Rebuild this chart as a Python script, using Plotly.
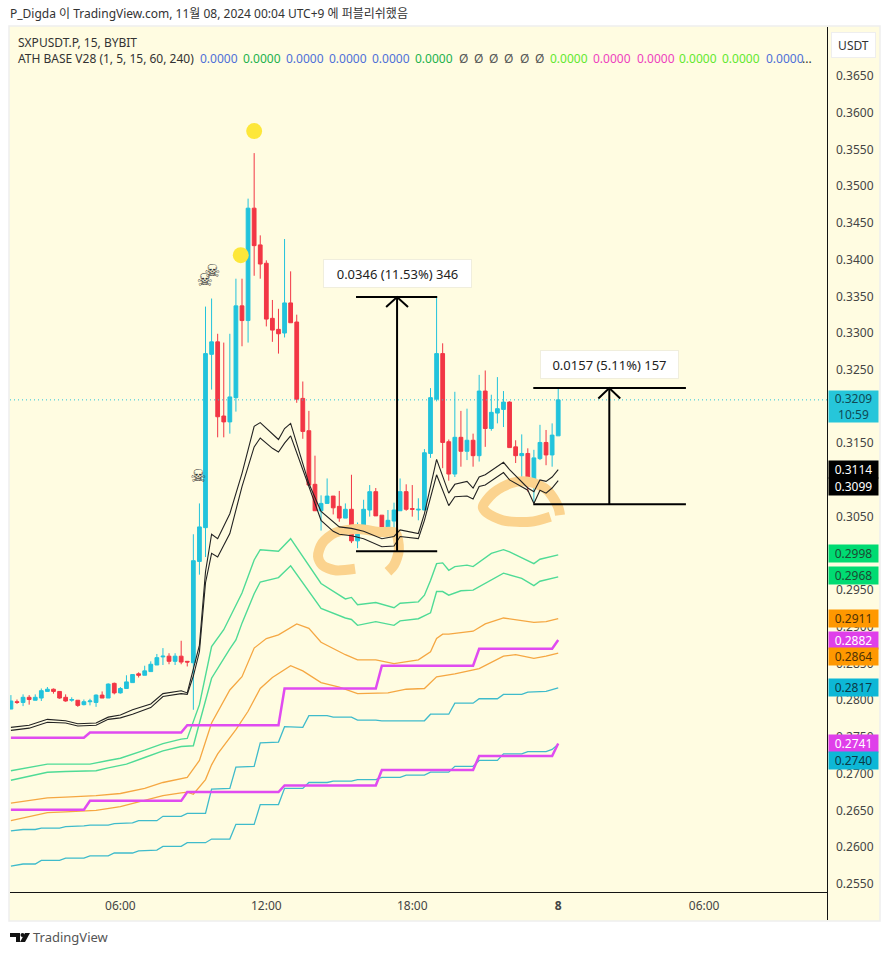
import pandas as pd
import plotly.graph_objects as go

# candles, 15 minute bars from 01:30 to 00:00
start_time = "2024-11-07 01:30"
opens = [
    .2788, .2798, .2797, .2804, .2800, .2803, .2812, .2815, .2812, .2804, .2800, .2800, .2794, .2798, .2797, .2807,
    .2803, .2823, .2810, .2816, .2824, .2836, .2834, .2839, .2848, .2859, .2860, .2853, .2860, .2853, .2851, .2989,
    .3035, .3271, .3288, .3187, .3179, .3212, .3337, .3317, .3470, .3420, .3395, .3320, .3305, .3300, .3341, .3315,
    .3211, .3167, .3094, .3058, .3068, .3078, .3064, .3048, .3060, .3017, .3034, .3059, .3084, .3052, .3026, .3044,
    .3058, .3084, .3061, .3059, .3059, .3136, .3210, .3272, .3152, .3108, .3158, .3139, .3154, .3133, .3221, .3170,
    .3191, .3196, .3206, .3145, .3133, .3136, .3095, .3129, .3151, .3134, .3160,
]
highs = [
    .2807, .2801, .2808, .2807, .2808, .2816, .2818, .2816, .2812, .2808, .2804, .2800, .2801, .2802, .2808, .2812,
    .2823, .2824, .2818, .2834, .2835, .2838, .2847, .2853, .2863, .2871, .2864, .2864, .2881, .2853, .3026, .3068,
    .3336, .3347, .3299, .3287, .3299, .3374, .3374, .3483, .3545, .3433, .3399, .3345, .3333, .3428, .3384, .3325,
    .3234, .3194, .3133, .3079, .3102, .3078, .3085, .3068, .3107, .3042, .3073, .3093, .3089, .3052, .3059, .3069,
    .3102, .3094, .3093, .3075, .3142, .3225, .3350, .3286, .3155, .3220, .3194, .3197, .3163, .3243, .3249, .3216,
    .3240, .3221, .3207, .3154, .3162, .3143, .3141, .3175, .3168, .3177, .3225,
]
lows = [
    .2788, .2795, .2792, .2794, .2800, .2799, .2812, .2809, .2802, .2798, .2798, .2791, .2793, .2793, .2791, .2803,
    .2803, .2808, .2809, .2816, .2824, .2831, .2834, .2839, .2848, .2848, .2849, .2848, .2849, .2846, .2787, .2971,
    .2995, .3223, .3158, .3158, .3163, .3193, .3282, .3287, .3378, .3374, .3309, .3288, .3272, .3294, .3314, .3205,
    .3156, .3093, .3058, .3031, .3068, .3053, .3043, .3048, .3014, .3007, .3032, .3050, .3051, .3024, .3024, .3018,
    .3058, .3058, .3050, .3045, .3059, .3130, .3207, .3116, .3099, .3104, .3118, .3127, .3118, .3125, .3145, .3167,
    .3177, .3172, .3144, .3123, .3104, .3084, .3069, .3127, .3120, .3118, .3160,
]
closes = [
    .2799, .2797, .2804, .2801, .2804, .2813, .2815, .2812, .2803, .2799, .2801, .2793, .2798, .2799, .2807, .2803,
    .2822, .2810, .2816, .2825, .2835, .2834, .2840, .2849, .2858, .2860, .2853, .2860, .2852, .2852, .2990, .3036,
    .3272, .3288, .3186, .3179, .3213, .3337, .3317, .3470, .3419, .3394, .3319, .3304, .3299, .3341, .3314, .3210,
    .3166, .3093, .3058, .3068, .3078, .3062, .3048, .3060, .3017, .3034, .3060, .3084, .3051, .3027, .3045, .3059,
    .3084, .3060, .3060, .3060, .3137, .3212, .3272, .3151, .3108, .3158, .3139, .3154, .3133, .3221, .3170, .3192,
    .3197, .3206, .3144, .3133, .3136, .3095, .3130, .3151, .3134, .3161, .3209,
]

# indicator bands, given as bar index + price at the corners of each line
black_up_idx = [0, 3, 6, 9, 11, 14, 16, 18, 20, 23, 25, 28, 29, 30, 31, 32, 33, 34, 36, 38, 40, 41, 44, 45, 46, 49, 51,
                54, 56, 58, 61, 63, 64, 67, 68, 70, 72, 73, 75, 76, 77, 78, 81, 82, 85, 86, 87, 88, 89, 90]
black_up = [.2763, .2766, .2774, .2772, .2768, .2769, .2777, .2780, .2787, .2795, .2809, .2813, .2810, .2841, .2875,
            .2975, .3026, .3020, .3054, .3109, .3173, .3178, .3155, .3170, .3177, .3095, .3057, .3036, .3034, .3030,
            .3020, .3023, .3032, .3027, .3054, .3128, .3082, .3094, .3098, .3089, .3104, .3107, .3124, .3114, .3089,
            .3084, .3100, .3098, .3104, .3114]
black_lo_idx = [0, 3, 6, 9, 11, 14, 16, 18, 20, 23, 25, 28, 29, 30, 31, 32, 33, 34, 36, 38, 40, 41, 43, 44, 45, 46, 49,
                51, 53, 54, 56, 58, 61, 63, 64, 67, 68, 70, 72, 73, 75, 76, 77, 78, 81, 82, 85, 86, 87, 88, 89, 90]
black_lo = [.2759, .2762, .2770, .2769, .2765, .2766, .2774, .2776, .2781, .2790, .2805, .2809, .2808, .2833, .2866,
            .2960, .3000, .2995, .3027, .3091, .3145, .3157, .3143, .3138, .3150, .3160, .3091, .3045, .3030, .3026,
            .3024, .3020, .3009, .3010, .3023, .3020, .3045, .3107, .3065, .3077, .3078, .3074, .3091, .3093, .3110,
            .3100, .3086, .3068, .3086, .3082, .3089, .3099]

green_up_idx = [0, 3, 6, 9, 13, 16, 18, 22, 25, 28, 29, 31, 33, 35, 38, 40, 41, 44, 46, 51, 55, 56, 57, 60, 63, 64, 67,
                68, 69, 70, 71, 72, 73, 75, 76, 79, 81, 82, 85, 86, 87, 90]
green_up = [.2704, .2709, .2713, .2713, .2713, .2718, .2721, .2732, .2741, .2747, .2748, .2794, .2873, .2896, .2946,
            .2991, .3005, .3003, .3020, .2959, .2938, .2940, .2930, .2933, .2926, .2932, .2934, .2943, .2963, .2986,
            .2987, .2977, .2982, .2984, .2982, .3000, .3005, .3002, .2990, .2986, .2992, .2998]
green_lo_idx = [0, 3, 6, 9, 14, 16, 19, 22, 25, 28, 30, 31, 33, 36, 37, 38, 40, 41, 44, 46, 51, 55, 56, 57, 60, 63, 64,
                67, 69, 70, 71, 72, 74, 76, 79, 81, 84, 86, 87, 90]
green_lo = [.2691, .2696, .2702, .2703, .2704, .2708, .2713, .2722, .2731, .2737, .2738, .2769, .2830, .2870, .2882,
            .2905, .2945, .2961, .2967, .2983, .2925, .2912, .2910, .2902, .2907, .2902, .2908, .2911, .2919, .2948,
            .2948, .2943, .2949, .2950, .2964, .2973, .2966, .2956, .2962, .2968]

orange_up_idx = [0, 3, 6, 9, 14, 18, 22, 25, 28, 29, 31, 33, 36, 38, 40, 42, 44, 47, 49, 51, 55, 57, 60, 63, 67, 69, 70,
                 71, 72, 76, 78, 81, 86, 88, 90]
orange_up = [.2660, .2663, .2667, .2668, .2670, .2673, .2680, .2688, .2694, .2695, .2718, .2769, .2814, .2832, .2871,
             .2884, .2889, .2904, .2898, .2879, .2862, .2855, .2855, .2850, .2855, .2866, .2884, .2890, .2890, .2894,
             .2904, .2912, .2906, .2907, .2911]
orange_lo_idx = [0, 3, 6, 9, 14, 18, 22, 25, 28, 29, 30, 32, 33, 34, 37, 38, 39, 41, 43, 46, 48, 51, 54, 57, 62, 65, 68,
                 70, 73, 77, 81, 83, 86, 88, 90]
orange_lo = [.2636, .2641, .2647, .2648, .2650, .2655, .2663, .2670, .2674, .2675, .2672, .2692, .2712, .2727, .2760,
             .2773, .2785, .2816, .2831, .2847, .2840, .2824, .2818, .2809, .2810, .2815, .2816, .2832, .2836, .2843,
             .2860, .2862, .2857, .2860, .2864]

teal_up_idx = [0, 2, 4, 5, 8, 9, 12, 13, 16, 17, 20, 21, 24, 25, 28, 29, 32, 33, 36, 37, 40, 41, 44, 45, 48, 49, 52, 53,
               56, 57, 60, 61, 68, 69, 72, 73, 76, 77, 80, 81, 84, 85, 88, 90]
teal_up = [.2622, .2624, .2624, .2626, .2626, .2628, .2629, .2630, .2630, .2632, .2633, .2636, .2636, .2642, .2642,
           .2646, .2646, .2679, .2680, .2709, .2710, .2742, .2743, .2764, .2763, .2779, .2779, .2777, .2777, .2773,
           .2773, .2772, .2772, .2781, .2781, .2796, .2796, .2802, .2802, .2808, .2808, .2811, .2812, .2817]
teal_lo_idx = [0, 2, 4, 5, 8, 9, 12, 13, 16, 17, 20, 21, 24, 25, 28, 29, 32, 33, 36, 37, 40, 41, 44, 45, 48, 49, 52, 53,
               56, 57, 60, 61, 64, 65, 68, 69, 72, 73, 76, 77, 80, 81, 84, 85, 88, 89, 90]
teal_lo = [.2574, .2577, .2577, .2582, .2582, .2585, .2585, .2588, .2588, .2592, .2592, .2595, .2596, .2601, .2601,
           .2606, .2606, .2611, .2611, .2631, .2631, .2658, .2658, .2680, .2680, .2688, .2688, .2690, .2690, .2692,
           .2692, .2695, .2695, .2698, .2698, .2702, .2702, .2710, .2710, .2718, .2718, .2727, .2727, .2730, .2730,
           .2733, .2740]

magenta_idx = [0, 12, 13, 28, 29, 44, 45, 60, 61, 76, 77, 89, 90]
magenta_up = [.2749, .2749, .2756, .2756, .2766, .2766, .2816, .2816, .2847, .2847, .2870, .2870, .2882]
magenta_lo = [.2651, .2651, .2663, .2663, .2675, .2675, .2684, .2684, .2705, .2705, .2724, .2724, .2741]

# hand drawn marks on the chart
scribble1_idx = [56.6, 53.3, 51.2, 50.5, 51.2, 53.3, 57.1, 60.7, 63.2, 63.8, 63, 62]
scribble1 = [.2979, .2977, .2984, .2996, .3014, .3028, .3033, .3029, .3028, .3005, .2984, .2975]
scribble2_idx = [88.7, 85.4, 80.9, 78.3, 77.6, 79.3, 82.4, 85.4, 88.2, 90, 90.3]
scribble2 = [.3050, .3043, .3045, .3055, .3063, .3082, .3096, .3097, .3086, .3063, .3052]

dot_idx = [37.8, 40]
dot_prices = [.3406, .3575]
skull_idx = [30.8, 31.9, 33.1]
skull_prices = [.3103, .3370, .3382]

# measure tools: low, high, span of the flat lines, centre
tool1 = dict(low=.3003, high=.3349, left=56.75, right=70.1, mid=63.5, wing_l=61.7, wing_r=65.3, wing_p=.33354,
             text="0.0346 (11.53%) 346", width=147)
tool2 = dict(low=.3067, high=.3225, left=85.9, right=111, mid=98.4, wing_l=96.6, wing_r=100.2, wing_p=.3211,
             text="0.0157 (5.11%) 157", width=137)

last_price = .3209

price_ticks = [.2550, .2600, .2650, .2700, .2750, .2800, .2850, .2900, .2950, .3000, .3050, .3100, .3150, .3200,
               .3250, .3300, .3350, .3400, .3450, .3500, .3550, .3600, .3650]
tick_times = ["2024-11-07 06:00", "2024-11-07 12:00", "2024-11-07 18:00", "2024-11-08 00:00", "2024-11-08 06:00"]
tick_labels = ["06:00", "12:00", "18:00", "<b>8</b>", "06:00"]

tag_values = [.3114, .3099, .2998, .2968, .2911, .2882, .2864, .2817, .2741, .2740]
tag_labels = ["0.3114", "0.3099", "0.2998", "0.2968", "0.2911", "0.2882", "0.2864", "0.2817", "0.2741", "0.2740"]
tag_colors = ["#000000", "#000000", "#00DB72", "#00DB72", "#FF9800", "#DF3FEA", "#FF9800", "#0DB7D6", "#DF3FEA", "#0DB7D6"]
tag_text = ["#FFFFFF", "#FFFFFF", "#1D4A33", "#1D4A33", "#4F3205", "#FFFFFF", "#4F3205", "#0B3A47", "#FFFFFF", "#0B3A47"]
tag_shift = [0, -6, 1, 1, 0, 0, -3, 0, 0, -16]

ind_labels = ["0.0000", "0.0000", "0.0000", "0.0000", "0.0000", "0.0000", "Ø", "Ø", "Ø", "Ø", "Ø", "Ø",
              "0.0000", "0.0000", "0.0000", "0.0000", "0.0000", "0.0000"]
ind_colors = ["#4E6FD8", "#22B14C", "#4E6FD8", "#4E6FD8", "#4E6FD8", "#22B14C", "#555555", "#555555", "#555555",
              "#555555", "#555555", "#555555", "#62E82E", "#EE3FBE", "#EE3FBE", "#62E82E", "#62E82E", "#4E6FD8"]
ind_x = [198, 241, 284, 327, 370, 413, 457, 472, 487, 502, 518, 533, 548, 591, 635, 677, 720, 764]

FONT = "Noto Sans, Noto Sans CJK KR, sans-serif"
CREAM = "#FFFCE1"
W, H = 891, 955
L, R, T, B = 10, 827, 27, 892

times = pd.date_range(start_time, periods=len(closes), freq="15min")


def bar_time(i):
    return pd.Timestamp(start_time) + pd.Timedelta(minutes=15 * i)


def bar_times(idx):
    return [bar_time(i) for i in idx]


def px(x):
    return (x - L) / (R - L)


def py(y):
    return (B - y) / (B - T)


def band(idx, values, color, width=1.3):
    return go.Scatter(x=bar_times(idx), y=values, mode="lines", line=dict(color=color, width=width), hoverinfo="skip")


fig = go.Figure()

for idx, vals in [(scribble1_idx, scribble1), (scribble2_idx, scribble2)]:
    fig.add_trace(go.Scatter(x=bar_times(idx), y=vals, mode="lines", hoverinfo="skip",
                             line=dict(color="#FBD38E", width=10, shape="spline", smoothing=0.8)))

fig.add_trace(go.Scatter(x=bar_times(dot_idx), y=dot_prices, mode="markers", hoverinfo="skip",
                         marker=dict(color="#FDE73A", size=16)))

fig.add_trace(band(teal_lo_idx, teal_lo, "#3FBBCB"))
fig.add_trace(band(teal_up_idx, teal_up, "#3FBBCB"))
fig.add_trace(band(orange_lo_idx, orange_lo, "#F5A742"))
fig.add_trace(band(orange_up_idx, orange_up, "#F5A742"))
fig.add_trace(band(green_lo_idx, green_lo, "#4FDB96", 1.4))
fig.add_trace(band(green_up_idx, green_up, "#4FDB96", 1.4))

fig.add_trace(go.Candlestick(
    x=times, open=opens, high=highs, low=lows, close=closes,
    increasing=dict(line=dict(color="#22C3DC", width=1), fillcolor="#22C3DC"),
    decreasing=dict(line=dict(color="#F23645", width=1), fillcolor="#F23645"),
))

fig.add_trace(band(black_lo_idx, black_lo, "#222222", 1.1))
fig.add_trace(band(black_up_idx, black_up, "#222222", 1.1))
fig.add_trace(band(magenta_idx, magenta_up, "#E04BF0", 2.5))
fig.add_trace(band(magenta_idx, magenta_lo, "#E04BF0", 2.5))

fig.add_trace(go.Scatter(x=bar_times(skull_idx), y=skull_prices, mode="text", text=["☠"] * 3, hoverinfo="skip",
                         textfont=dict(family="DejaVu Sans", size=18, color="#333333")))

# measure tools
for tool in [tool1, tool2]:
    for xs, ys in [
        ([tool["left"], tool["right"]], [tool["high"], tool["high"]]),
        ([tool["left"], tool["right"]], [tool["low"], tool["low"]]),
        ([tool["mid"], tool["mid"]], [tool["low"], tool["high"]]),
        ([tool["wing_l"], tool["mid"], tool["wing_r"]], [tool["wing_p"], tool["high"], tool["wing_p"]]),
    ]:
        fig.add_trace(go.Scatter(x=bar_times(xs), y=ys, mode="lines", hoverinfo="skip",
                                 line=dict(color="#000000", width=2)))
    fig.add_annotation(x=bar_time(tool["mid"]), y=tool["high"], yshift=9, yanchor="bottom", xanchor="center",
                       text=tool["text"], showarrow=False, width=tool["width"], height=27, bgcolor="#FFFFFF",
                       bordercolor="#F0EEDD", borderwidth=1, borderpad=0, font=dict(family=FONT, size=13, color="#222222"))

# page frame, axis spines, last price line
shapes = [
    dict(type="rect", xref="paper", yref="paper", x0=px(9), x1=px(880), y0=py(26), y1=py(921), layer="below",
         fillcolor=CREAM, line=dict(color="#EEEEEE", width=1.5)),
    dict(type="line", xref="paper", yref="paper", x0=px(827.5), x1=px(827.5), y0=py(27), y1=py(920),
         line=dict(color="#131313", width=1)),
    dict(type="line", xref="paper", yref="paper", x0=px(10), x1=px(827), y0=py(892.5), y1=py(892.5),
         line=dict(color="#131313", width=1)),
    dict(type="line", xref="paper", yref="y", x0=0, x1=1, y0=last_price, y1=last_price,
         line=dict(color="#26C6DA", width=1, dash="1px,3px")),
    # TradingView logo
    dict(type="path", xref="paper", yref="paper", fillcolor="#131313", line=dict(width=0),
         path=f"M{px(10)},{py(933)} L{px(20)},{py(933)} L{px(20)},{py(942)} L{px(16)},{py(942)} "
              f"L{px(16)},{py(937)} L{px(10)},{py(937)} Z"),
    dict(type="circle", xref="paper", yref="paper", fillcolor="#131313", line=dict(width=0),
         x0=px(20.5), x1=px(24.5), y0=py(937), y1=py(933)),
    dict(type="path", xref="paper", yref="paper", fillcolor="#131313", line=dict(width=0),
         path=f"M{px(25)},{py(933)} L{px(30)},{py(933)} L{px(25)},{py(942)} L{px(20)},{py(942)} Z"),
]

annotations = [
    dict(text="P_Digda 이 TradingView.com, 11월 08, 2024 00:04 UTC+9 에 퍼블리쉬했음", x=px(8), y=py(14),
         font=dict(size=12, color="#333333")),
    dict(text="SXPUSDT.P, 15, BYBIT", x=px(16), y=py(42), font=dict(size=12, color="#333333")),
    dict(text="ATH BASE V28 (1, 5, 15, 60, 240)", x=px(16), y=py(59), font=dict(size=12, color="#333333")),
    dict(text="...", x=px(800), y=py(59), font=dict(size=12, color="#333333")),
    dict(text="TradingView", x=px(31), y=py(937), font=dict(size=13, color="#555555")),
]
for label, color, x in zip(ind_labels, ind_colors, ind_x):
    annotations.append(dict(text=label, x=px(x), y=py(59), font=dict(size=12, color=color)))

for a in annotations:
    a["font"]["family"] = FONT
    fig.add_annotation(xref="paper", yref="paper", xanchor="left", yanchor="middle", showarrow=False, **a)

fig.add_annotation(xref="paper", yref="paper", x=px(853.5), y=py(45), xanchor="center", yanchor="middle",
                   showarrow=False, text="USDT", width=43, height=24,
                   bgcolor="#FFFFFF", bordercolor="#EEEEEE", borderwidth=1, borderpad=0,
                   font=dict(family=FONT, size=12, color="#333333"))

fig.add_annotation(xref="paper", yref="y", x=px(828), y=last_price, yshift=-6.5, xanchor="left", yanchor="middle",
                   showarrow=False, text="0.3209<br>10:59", width=49, height=31, borderpad=0, bgcolor="#26C6DA",
                   font=dict(family=FONT, size=12, color="#0F4A55"))
for value, label, color, text_color, shift in zip(tag_values, tag_labels, tag_colors, tag_text, tag_shift):
    fig.add_annotation(xref="paper", yref="y", x=px(828), y=value, yshift=shift, xanchor="left", yanchor="middle",
                       showarrow=False, text=label, width=49, height=17, borderpad=0, bgcolor=color,
                       font=dict(family=FONT, size=12, color=text_color))

fig.update_layout(
    width=W,
    height=H,
    margin=dict(l=L, r=W - R, t=T, b=H - B),
    paper_bgcolor="#FFFFFF",
    plot_bgcolor=CREAM,
    showlegend=False,
    boxgap=0.12,
    shapes=shapes,
    font=dict(family=FONT, size=12, color="#444444"),
    xaxis=dict(
        type="date",
        range=[bar_time(-0.15), bar_time(134.2)],
        rangeslider=dict(visible=False),
        tickmode="array",
        tickvals=tick_times,
        ticktext=tick_labels,
        showgrid=False,
        zeroline=False,
        ticks="",
        ticklabelstandoff=5,
    ),
    yaxis=dict(
        side="right",
        range=[0.25389, 0.37167],
        tickmode="array",
        tickvals=price_ticks,
        tickformat=".4f",
        showgrid=False,
        zeroline=False,
        ticks="",
        ticklabelstandoff=8,
    ),
)

fig.write_html("out.html", config=dict(displayModeBar=False),
               post_script="document.body.style.margin='0';")
